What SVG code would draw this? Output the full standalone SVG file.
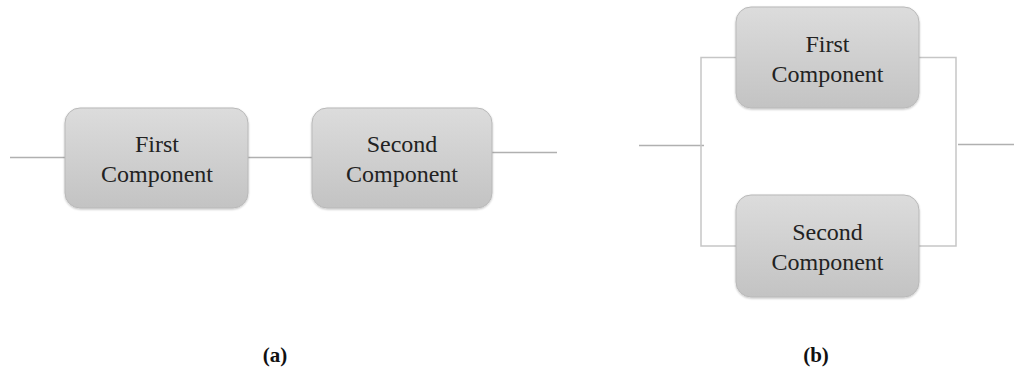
<svg xmlns="http://www.w3.org/2000/svg" width="1014" height="370" viewBox="0 0 1014 370">
  <defs>
    <linearGradient id="boxFill" x1="0" y1="0" x2="0" y2="1">
      <stop offset="0" stop-color="#dcdcdc"/>
      <stop offset="1" stop-color="#c3c3c3"/>
    </linearGradient>
    <filter id="soft" x="-10%" y="-10%" width="120%" height="130%">
      <feGaussianBlur in="SourceAlpha" stdDeviation="1"/>
      <feOffset dy="1" result="b"/>
      <feComponentTransfer><feFuncA type="linear" slope="0.25"/></feComponentTransfer>
      <feMerge><feMergeNode/><feMergeNode in="SourceGraphic"/></feMerge>
    </filter>
  </defs>
  <style>
    .box { fill: url(#boxFill); stroke: #b9b9b9; stroke-width: 1; filter: url(#soft); }
    .lbl { font-family: "Liberation Serif", "Times New Roman", serif; font-size: 24px; fill: #222; text-anchor: middle; }
    .cap { font-family: "Liberation Serif", "Times New Roman", serif; font-size: 21px; font-weight: bold; fill: #111; text-anchor: middle; }
    .wire { fill: none; stroke: #b0b0b0; stroke-width: 1.5; }
    .wire2 { fill: none; stroke: #c6c6c6; stroke-width: 1.5; }
  </style>

  <!-- connectors -->
  <g id="connectors">
    <!-- (a) series -->
    <line class="wire" x1="10" y1="157.5" x2="76" y2="157.5"/>
    <line class="wire" x1="248" y1="157.5" x2="312" y2="157.5"/>
    <line class="wire" x1="492" y1="152.5" x2="557" y2="152.5"/>
    <!-- (b) parallel -->
    <line class="wire" x1="639" y1="145.5" x2="704" y2="145.5"/>
    <polyline class="wire2" points="736,57.5 701,57.5 701,246 736,246"/>
    <polyline class="wire2" points="919,57.5 956,57.5 956,246 919,246"/>
    <line class="wire" x1="958" y1="144.5" x2="1014" y2="144.5"/>
  </g>

  <!-- (a) nodes -->
  <g id="a-first">
    <rect class="box" x="65" y="108" width="183" height="100" rx="15"/>
    <text class="lbl" x="157" y="152">First</text>
    <text class="lbl" x="157" y="182">Component</text>
  </g>
  <g id="a-second">
    <rect class="box" x="312" y="108" width="180" height="100" rx="15"/>
    <text class="lbl" x="402" y="152">Second</text>
    <text class="lbl" x="402" y="182">Component</text>
  </g>

  <!-- (b) nodes -->
  <g id="b-first">
    <rect class="box" x="736" y="7" width="183" height="101" rx="15"/>
    <text class="lbl" x="827.5" y="51.5">First</text>
    <text class="lbl" x="827.5" y="81.5">Component</text>
  </g>
  <g id="b-second">
    <rect class="box" x="736" y="195" width="183" height="102" rx="15"/>
    <text class="lbl" x="827.5" y="240">Second</text>
    <text class="lbl" x="827.5" y="270">Component</text>
  </g>

  <!-- captions -->
  <text class="cap" x="275" y="362">(a)</text>
  <text class="cap" x="816" y="362">(b)</text>
</svg>
